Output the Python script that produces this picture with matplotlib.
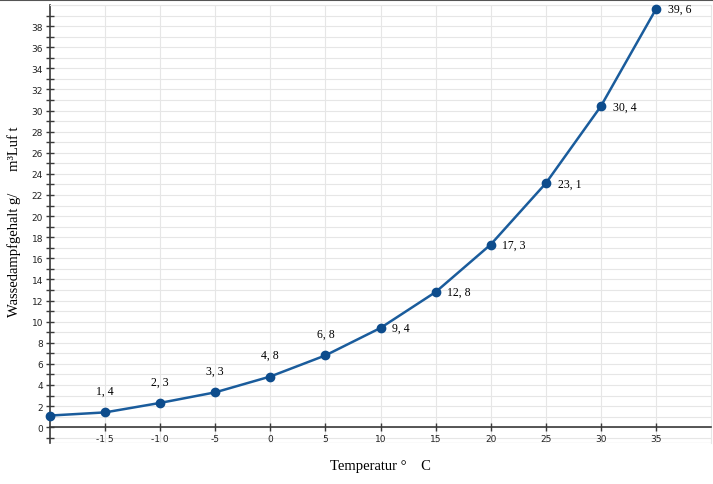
import numpy as np
import matplotlib
matplotlib.use('Agg')
import matplotlib.pyplot as plt
from matplotlib.lines import Line2D

# data
temperatur = [-20, -15, -10, -5, 0, 5, 10, 15, 20, 25, 30, 35]
wasserdampf = [1.1, 1.4, 2.3, 3.3, 4.8, 6.8, 9.4, 12.8, 17.3, 23.1, 30.4, 39.6]
punkt_labels = [None, '1, 4', '2, 3', '3, 3', '4, 8', '6, 8', '9, 4', '12, 8',
                '17, 3', '23, 1', '30, 4', '39, 6']
x_ticks = [-15, -10, -5, 0, 5, 10, 15, 20, 25, 30, 35]
x_ticklabels = ['-1 5', '-1 0', '-5', '0', '5', '10', '15', '20', '25', '30', '35']
y_ticks = list(range(0, 40, 2))

blau = '#1a5c9c'
achse = '#3a3a3a'
gitter = '#e6e6e6'

fig = plt.figure(figsize=(7.13, 4.85), dpi=100)
ax = fig.add_axes([50 / 713, 1 - 444 / 485, 661 / 713, 438 / 485])

ax.set_xlim(-20, 40)
ax.set_ylim(-1.5, 40)

# grid
for x in x_ticks:
    ax.axvline(x, color=gitter, lw=0.8, zorder=0)
for y in range(-1, 41):
    ax.axhline(y, color=gitter, lw=0.8, zorder=0)
ax.axhline(-1.5, color=gitter, lw=1.0, zorder=0)

ax.plot(temperatur, wasserdampf, color=blau, lw=1.8, marker='o', ms=6,
        markerfacecolor='#0d4c8c', markeredgecolor='#0d4c8c', zorder=3,
        clip_on=False)

for t, w, lab in zip(temperatur, wasserdampf, punkt_labels):
    if lab is None:
        continue
    if t <= 5:
        ax.annotate(lab, (t, w), xytext=(0, 11), textcoords='offset points',
                    ha='center', va='bottom', fontsize=8.5, family='Liberation Serif')
    else:
        ax.annotate(lab, (t, w), xytext=(8.5, 0), textcoords='offset points',
                    ha='left', va='center', fontsize=8.5, family='Liberation Serif')

# axes styling
ax.spines['bottom'].set_position(('data', 0))
ax.spines['bottom'].set_color(achse)
ax.spines['left'].set_color(achse)
ax.spines['bottom'].set_linewidth(1.2)
ax.spines['left'].set_linewidth(1.2)
ax.spines['top'].set_color(gitter)
ax.spines['right'].set_color(gitter)

ax.set_xticks(x_ticks)
ax.set_xticklabels(x_ticklabels)
ax.set_yticks(y_ticks)
ax.set_yticks(list(range(-1, 41, 2)), minor=True)
ax.tick_params(axis='both', which='both', direction='inout', length=6,
               width=1, color=achse, labelsize=6.5, labelcolor='#222222')
ax.tick_params(axis='x', pad=2)
ax.tick_params(axis='y', pad=2)

fig.text(380 / 713, 1 - 467 / 485, 'Temperatur °    C', ha='center', va='center',
         fontsize=10.5, family='Liberation Serif')
fig.text(14 / 713, 1 - 222 / 485, 'Wassedampfgehalt g/      m³Luf t', ha='center',
         va='center', rotation=90, fontsize=10.5, family='Liberation Serif')

fig.add_artist(Line2D([0, 1], [0.998, 0.998], color='#555555', lw=1.5,
                      transform=fig.transFigure))

fig.savefig('out.png', dpi=100)
